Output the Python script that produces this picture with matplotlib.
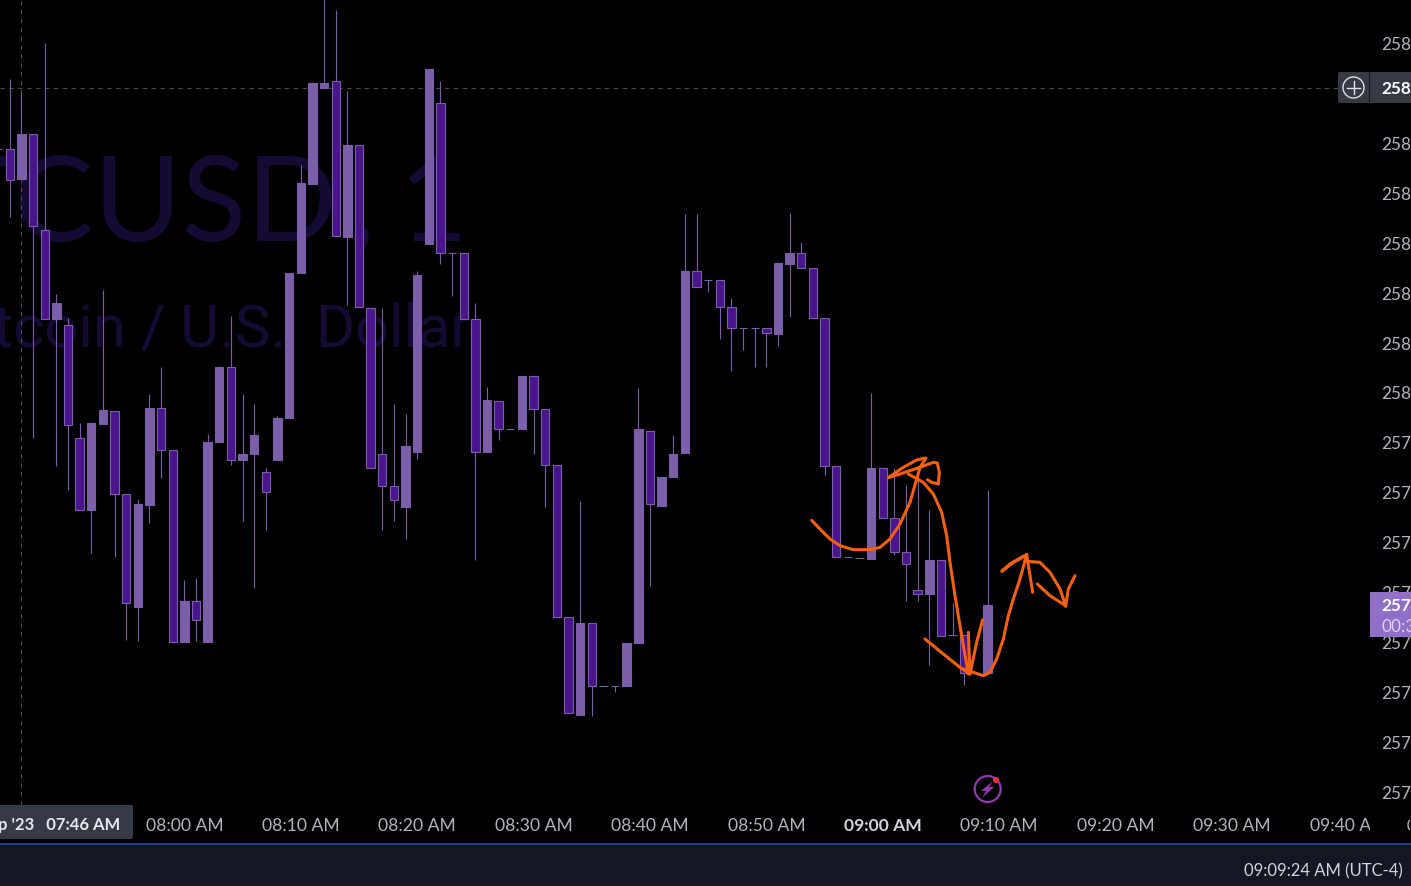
#BTCUSD 1分足チャート
import matplotlib
matplotlib.use('Agg')
import matplotlib.pyplot as plt
import numpy as np
from matplotlib.patches import Arc, Circle, FancyBboxPatch, Polygon, Rectangle
from matplotlib.transforms import Bbox, TransformedBbox

plt.rcParams['font.family'] = ['Lato', 'DejaVu Sans']

#データ(25800からの差, 1本目は07:44)
base_price = 25800
open_vals = [48.6, 48.7, 42.6, 51.7, 32.4, 14.6, 13.5, -9.2, -23.7, -6.5,
             -3.8, -20.4, -43.1, -22.7, -3.2, -11.6, -50.1, -41.8, -50.1, -10.1,
             5.0, -13.7, -12.5, -16.0, -13.7, -5.3, 23.8, 41.6, 61.0, 62.4,
             31.0, 49.5, 16.9, -12.4, -18.8, -23.1, -12.1, 29.6, 58.0, 27.9,
             27.9, 14.7, -12.1, -1.8, -7.4, -7.5, 3.2, -3.4, -14.6, -45.0,
             -64.8, -46.3, -58.9, -58.9, -59.0, -50.3, -7.8, -22.9, -17.1, -12.2,
             24.3, 22.5, 22.5, 17.1, 12.9, 12.9, 12.9, 11.6, 25.6, 27.9,
             24.9, 14.9, -14.8, -33.0, -33.2, -33.4, -15.2, -25.2, -32.0, -39.6,
             -40.5, -33.6, -48.8, -48.7, -56.3, -56.4]
high_vals = [48.6, 62.8, 60.1, 51.7, 70.0, 19.7, 14.9, -6.3, -6.3, 20.5,
             -3.8, -20.4, -21.4, -0.4, 5.0, -11.6, -37.6, -37.2, -8.5, 5.3,
             15.2, -0.5, -2.4, -15.2, -4.9, 23.9, 45.4, 62.2, 79.1, 76.5,
             60.4, 49.5, 16.9, 16.9, -2.4, -4.5, 24.3, 64.8, 62.4, 27.9,
             27.9, 17.9, 1.1, -1.8, -7.4, 3.2, 3.2, -3.4, -14.6, -45.0,
             -21.9, -46.3, -58.9, -58.9, -50.3, 0.9, -7.8, -17.0, -8.7, 35.6,
             35.6, 22.5, 22.5, 18.9, 12.9, 12.9, 12.9, 25.8, 35.9, 30.1,
             24.9, 14.9, -14.8, -33.0, -33.2, -0.2, -15.2, -15.2, -18.7, -16.1,
             -23.7, -33.6, -42.2, -48.7, -56.3, -19.7]
low_vals = [48.6, 35.0, 42.6, -9.3, 14.7, -14.9, -19.7, -23.7, -32.2, -6.5,
            -33.1, -49.7, -49.9, -26.3, -17.3, -50.1, -50.1, -49.9, -50.1, -10.1,
            -14.7, -25.9, -39.2, -27.7, -13.7, -5.3, 23.8, 41.6, 61.0, 31.2,
            17.4, 17.1, -15.2, -27.6, -25.9, -29.4, -13.5, 29.6, 25.6, 19.2,
            14.7, -33.6, -12.1, -9.7, -7.4, -7.5, -12.5, -23.1, -45.0, -64.3,
            -64.8, -65.0, -58.9, -60.2, -59.0, -50.3, -38.9, -22.9, -17.1, -12.2,
            21.0, 20.0, 10.6, 4.2, 8.4, 5.0, 5.0, 9.2, 15.0, 24.8,
            14.8, -16.7, -33.0, -33.0, -33.2, -33.4, -25.2, -32.6, -41.9, -41.9,
            -54.7, -48.9, -48.8, -58.8, -56.3, -56.4]
close_vals = [48.6, 42.5, 51.8, 33.2, 14.7, 17.9, -6.7, -23.7, -6.3, -3.7,
              -20.5, -42.2, -22.5, -3.2, -11.6, -50.1, -41.8, -45.7, -10.0, 5.1,
              -13.6, -12.4, -8.6, -20.1, -5.2, 23.9, 41.8, 62.0, 62.0, 31.2,
              49.6, 17.1, -15.2, -18.9, -21.7, -10.8, 23.5, 64.8, 27.8, 27.9,
              14.7, -12.1, -1.7, -7.5, -7.4, 3.2, -3.4, -14.7, -45.0, -64.3,
              -46.2, -59.0, -58.9, -58.9, -50.3, -7.5, -22.4, -17.0, -12.4, 24.3,
              21.0, 22.5, 17.0, 12.8, 12.9, 12.9, 11.8, 25.8, 27.9, 24.8,
              14.8, -14.9, -33.0, -33.0, -33.2, -15.2, -25.2, -32.1, -34.4, -40.5,
              -33.6, -48.9, -48.8, -56.4, -56.3, -42.6]

#目盛り
price_ticks = [25720, 25730, 25740, 25750, 25760, 25770, 25780, 25790,
               25800, 25810, 25820, 25830, 25840, 25850, 25860, 25870]
time_ticks = [16, 26, 36, 46, 56, 66, 76, 86, 96, 106, 116]
time_labels = ['08:00 AM', '08:10 AM', '08:20 AM', '08:30 AM', '08:40 AM', '08:50 AM',
               '09:00 AM', '09:10 AM', '09:20 AM', '09:30 AM', '09:40 AM']
cross_minute = 2
cross_price = 25860.9

#手書きの線(拡大画像から読んだ点, 800,380 起点の3倍座標)
strokes = [
    [(35, 424), (60, 450), (90, 480), (120, 500), (160, 512), (210, 512), (240, 505), (270, 480),
     (300, 435), (330, 370), (350, 300), (360, 265), (378, 237), (350, 243), (310, 265), (265, 296),
     (300, 285), (360, 265), (400, 250), (412, 252), (418, 280), (415, 315), (395, 310), (382, 302)],
    [(325, 285), (370, 310), (400, 345), (425, 400), (440, 470), (450, 550), (465, 650), (485, 770), (505, 885)],
    [(375, 780), (430, 825), (480, 865), (510, 885)],
    [(505, 760), (510, 885), (530, 790), (548, 722)],
    [(490, 870), (520, 880), (550, 890), (570, 880), (590, 840), (610, 780), (625, 710), (640, 660),
     (660, 600), (680, 527), (640, 550), (605, 577), (630, 555), (680, 527), (690, 590), (698, 640)],
    [(680, 547), (720, 550), (750, 580), (780, 630), (797, 680), (750, 650), (712, 615)],
    [(797, 682), (805, 630), (825, 590)],
]

W, H = 1411, 887
fig = plt.figure(figsize=(W / 100, H / 100), dpi=100, facecolor='black')
ax = fig.add_axes([0, (H - 806) / H, 1370 / W, 806 / H], facecolor='black')

#透かし文字
wm_color = '#140a33'
ax.text(337 / W, 1 - 241 / H, 'BTCUSD', transform=fig.transFigure, ha='right', va='baseline',
        fontsize=86, color=wm_color, family='Lato', zorder=0)
ax.text(348 / W, 1 - 241 / H, ',', transform=fig.transFigure, ha='left', va='baseline',
        fontsize=86, color=wm_color, family='Lato', zorder=0)
ax.text(468 / W, 1 - 241 / H, '1', transform=fig.transFigure, ha='right', va='baseline',
        fontsize=86, color=wm_color, family='Lato', zorder=0)
ax.text(471 / W, 1 - 347 / H, 'Bitcoin / U.S.  Dollar', transform=fig.transFigure, ha='right', va='baseline',
        fontsize=43, color=wm_color, family='Roboto', zorder=0)

#十字線
cross_color = '#4a4a50'
ax.axhline(cross_price, color=cross_color, lw=0.8, ls=(0, (4, 4)), zorder=1)
ax.axvline(cross_minute, color=cross_color, lw=0.8, ls=(0, (4, 4)), zorder=1)

#ローソク足
minutes = np.arange(len(open_vals))
o = base_price + np.array(open_vals)
h = base_price + np.array(high_vals)
l = base_price + np.array(low_vals)
c = base_price + np.array(close_vals)
edge = '#7b5ea8'
fills = np.where(c > o, '#7b5ea8', '#4a148c')
ax.vlines(minutes, l, h, color=edge, lw=0.8, zorder=2)
ax.bar(minutes, c - o, bottom=o, width=0.72, color=fills, edgecolor=edge, linewidth=0.8, zorder=3)

ax.set_xlim(0.16, 117.86)
ax.set_ylim(25717.23, 25878.76)
for s in ax.spines.values():
    s.set_visible(False)

ax.yaxis.tick_right()
ax.set_yticks(price_ticks)
ax.set_yticklabels([str(p) for p in price_ticks])
ax.tick_params(axis='y', length=0, pad=8, labelsize=12.4, labelcolor='#b2b5be')
ax.set_xticks(time_ticks)
ax.set_xticklabels(time_labels)
ax.tick_params(axis='x', length=0, pad=8.6, labelsize=12.6, labelcolor='#b2b5be')

#09:40のラベルは価格軸の手前で切れる
clip = TransformedBbox(Bbox([[0, 0], [1370 / W, 1]]), fig.transFigure)
for lab in ax.get_xticklabels():
    lab.set_clip_box(clip)
    lab.set_clip_on(True)
    if lab.get_text() == '09:00 AM':
        lab.set_fontweight('bold')
        lab.set_color('#d1d4dc')

#上に重ねる部分はピクセル座標
ui = fig.add_axes([0, 0, 1, 1], zorder=5)
ui.set_xlim(0, W)
ui.set_ylim(H, 0)
ui.axis('off')
ui.patch.set_alpha(0)

#下のパネル
ui.add_patch(Rectangle((0, 845), W, H - 845, color='#131722', lw=0))
ui.plot([0, W], [845.5, 845.5], color='#1f3d99', lw=1.5)
ui.text(1403, 871, '09:09:24 AM (UTC-4)', ha='right', va='center', fontsize=12, color='#d1d4dc')

#時間のタグ
ui.add_patch(FancyBboxPatch((-6, 806), 139, 34, boxstyle='round,pad=0,rounding_size=2', color='#363a45', lw=0))
ui.text(120, 825.5, "Sep '23   07:46 AM", ha='right', va='center', fontsize=12, fontweight='bold', color='#e8e8ec')
ui.add_patch(Arc((1414, 826), 12, 14, theta1=130, theta2=230, color='#b2b5be', lw=1))

#十字線の価格タグ
ui.add_patch(FancyBboxPatch((1338, 73), 90, 31, boxstyle='round,pad=0,rounding_size=2', color='#363a45', lw=0))
ui.plot([1369, 1369], [73, 104], color='#131722', lw=0.8)
ui.add_patch(Circle((1353.5, 88.5), 10.5, fill=False, ec='#e0e0e0', lw=1))
ui.plot([1347, 1360], [88.5, 88.5], color='#e0e0e0', lw=1)
ui.plot([1353.5, 1353.5], [82, 95], color='#e0e0e0', lw=1)
ui.text(1381.5, 89, '25860', ha='left', va='center', fontsize=12.4, fontweight='bold', color='white')

#現在値のタグ
ui.add_patch(Rectangle((1370, 593), 50, 44.5, color='#8f6fc8', lw=0))
ui.text(1381.5, 606.5, '25757', ha='left', va='center', fontsize=12.4, fontweight='bold', color='white')
ui.text(1381.5, 627, '00:36', ha='left', va='center', fontsize=12.4, color='#ddd2f0')

#稲妻アイコン
ui.add_patch(Circle((987.7, 790), 13, fill=False, ec='#9338b0', lw=1.6))
ui.add_patch(Polygon([(993, 782), (981, 792), (986, 792), (982, 799), (994, 788), (989, 788)], color='#9338b0', lw=0))
ui.add_patch(Circle((996, 781), 3, color='#f23645', lw=0))

#手書きの線
for st in strokes:
    pts = np.array(st) / 3 + [800, 380]
    ui.plot(pts[:, 0], pts[:, 1], color='#f5600f', lw=2.2, solid_joinstyle='round', solid_capstyle='round')

fig.savefig('out.png', dpi=100, facecolor='black')
